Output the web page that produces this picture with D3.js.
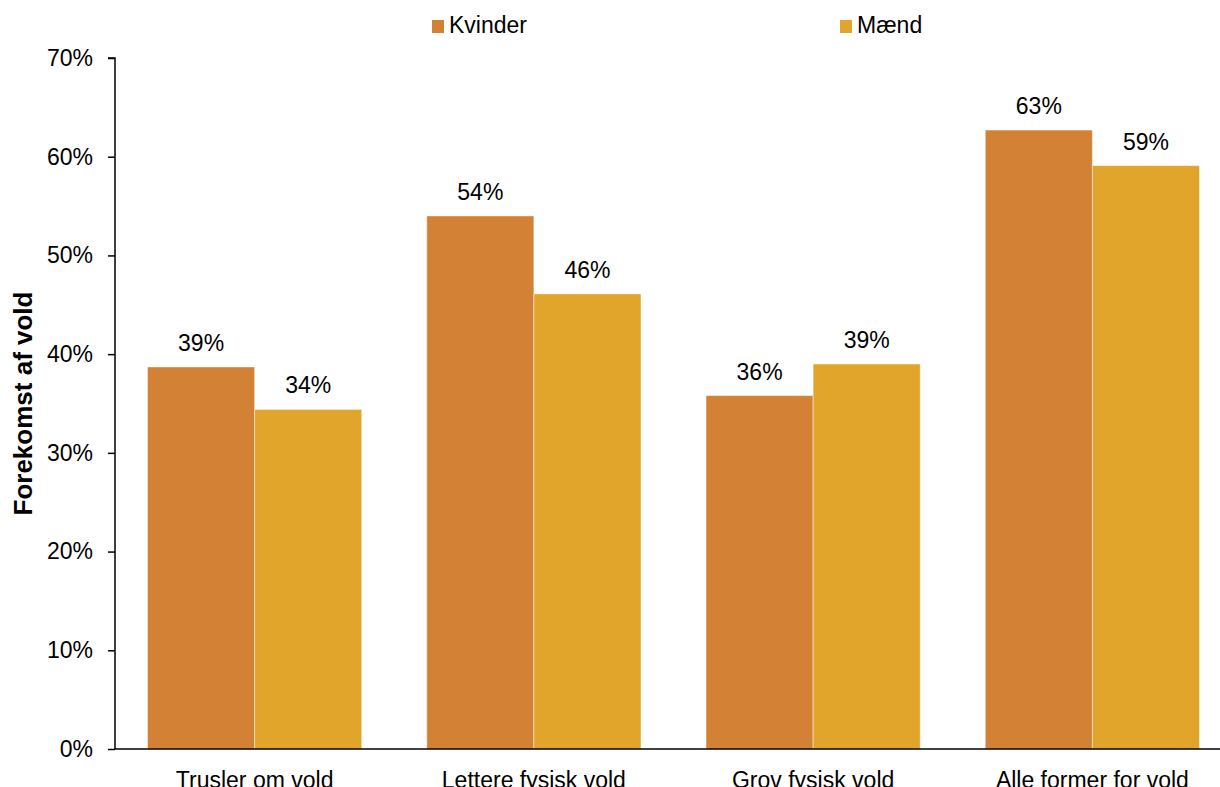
<!DOCTYPE html>
<html>
<head>
<meta charset="utf-8">
<script src="https://cdn.jsdelivr.net/npm/d3@7"></script>
<style>
  html, body { margin: 0; padding: 0; background: #fff; }
  svg { display: block; font-family: Arial, "Liberation Sans", sans-serif; }
</style>
</head>
<body>
<svg id="chart" width="1220" height="787"></svg>
<script>
const categories = ["Trusler om vold", "Lettere fysisk vold", "Grov fysisk vold", "Alle former for vold"];
const seriesNames = ["Kvinder", "Mænd"];
const kvinder = [38.7, 54.0, 35.8, 62.7];
const maend = [34.4, 46.1, 39.0, 59.1];
const colors = ["#D38135", "#E0A52A"];
const yTicks = [0, 10, 20, 30, 40, 50, 60, 70];
const yTitle = "Forekomst af vold";

(function () {
const svg = d3.select("#chart");
const mLeft = 115, mTop = 58, mBottom = 749, rightEnd = 1232;

const x = d3.scaleBand().domain(categories).range([mLeft, rightEnd])
  .paddingInner(0.233).paddingOuter(0.1165);
const xs = d3.scaleBand().domain(seriesNames).range([0, x.bandwidth()]).padding(0);
const y = d3.scaleLinear().domain([0, 70]).range([mBottom, mTop]);

const data = categories.map((c, i) => ({cat: c, vals: [kvinder[i], maend[i]]}));

// bars
const g = svg.append("g");
data.forEach(d => {
  d.vals.forEach((v, j) => {
    g.append("rect")
      .attr("x", x(d.cat) + xs(seriesNames[j]))
      .attr("y", y(v))
      .attr("width", xs.bandwidth())
      .attr("height", y(0) - y(v))
      .attr("fill", colors[j])
      .attr("stroke", "rgba(255,255,255,0.45)")
      .attr("stroke-width", 1);
    g.append("text")
      .attr("x", x(d.cat) + xs(seriesNames[j]) + xs.bandwidth() / 2)
      .attr("y", y(v) - 16)
      .attr("text-anchor", "middle")
      .attr("font-size", "23px")
      .attr("fill", "#000")
      .text(Math.round(v) + "%");
  });
});

// y axis
const yAxis = d3.axisLeft(y).tickValues(yTicks).tickFormat(d => d + "%").tickSize(7).tickPadding(15);
const ya = svg.append("g").attr("transform", `translate(${mLeft},0)`).call(yAxis);
ya.select(".domain").attr("stroke", "#000").attr("stroke-width", 1.5).attr("d", `M-7,${mTop}H0V${mBottom}`);
ya.selectAll(".tick line").attr("stroke", "#000").attr("stroke-width", 1.5);
ya.selectAll(".tick text").attr("font-size", "23px").attr("font-family", "Arial, 'Liberation Sans', sans-serif").attr("fill", "#000");

// x axis
const xAxis = d3.axisBottom(x).tickSize(0).tickPadding(27);
const xa = svg.append("g").attr("transform", `translate(0,${mBottom})`).call(xAxis);
xa.select(".domain").attr("stroke", "#000").attr("stroke-width", 1.5).attr("d", `M${mLeft},0H1220`);
xa.selectAll(".tick text").attr("font-size", "23px").attr("font-family", "Arial, 'Liberation Sans', sans-serif").attr("fill", "#000").attr("dy", "0.5em");

// y title
svg.append("text")
  .attr("transform", `translate(32,${(mTop + mBottom) / 2}) rotate(-90)`)
  .attr("text-anchor", "middle")
  .attr("font-size", "26px")
  .attr("font-weight", "bold")
  .attr("fill", "#000")
  .text(yTitle);

// legend
const legendX = [432, 840];
seriesNames.forEach((s, j) => {
  svg.append("rect").attr("x", legendX[j]).attr("y", 20).attr("width", 12).attr("height", 13).attr("fill", colors[j]);
  svg.append("text").attr("x", legendX[j] + 17).attr("y", 33).attr("font-size", "23px").attr("fill", "#000").text(s);
});
})();
</script>
</body>
</html>
